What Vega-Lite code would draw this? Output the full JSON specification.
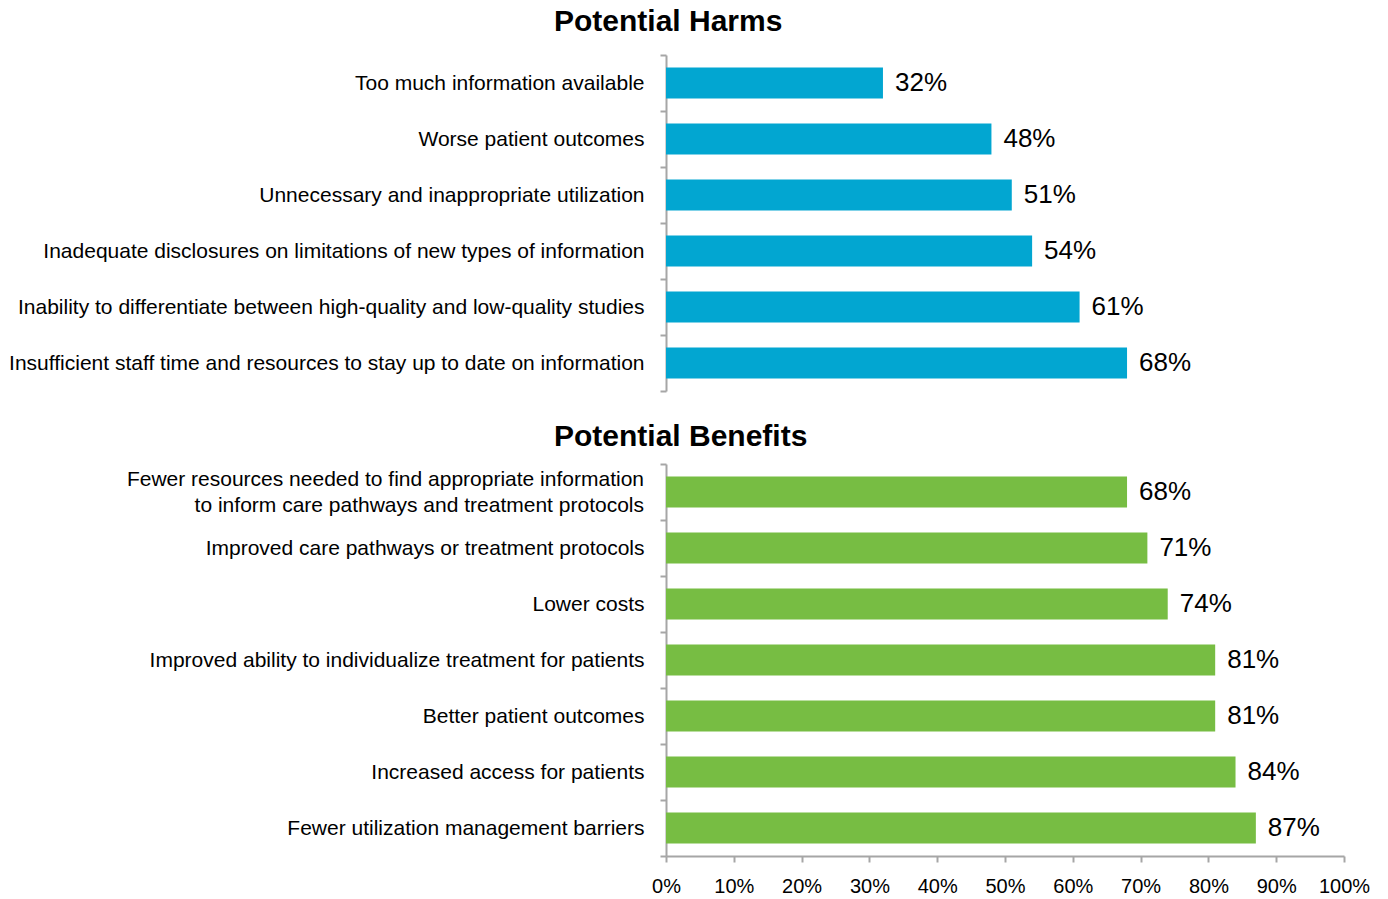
{
  "$schema": "https://vega.github.io/schema/vega-lite/v6.json",
  "padding": {"left": 8, "top": 7, "right": 15, "bottom": 5},
  "background": "white",
  "spacing": 30,
  "config": {
    "font": "Liberation Sans",
    "view": {"stroke": null},
    "axis": {
      "labelFont": "Liberation Sans",
      "labelColor": "#000000",
      "labelFontSize": 20,
      "grid": false,
      "domainColor": "#a6a6a6",
      "tickColor": "#a6a6a6",
      "domainWidth": 2,
      "tickWidth": 2,
      "tickSize": 6
    },
    "title": {
      "font": "Liberation Sans",
      "fontSize": 30,
      "fontWeight": "bold",
      "color": "#000000",
      "anchor": "start",
      "frame": "group",
      "dx": -112
    }
  },
  "vconcat": [
    {
      "title": {"text": "Potential Harms", "offset": 7},
      "width": 678,
      "height": 336,
      "data": {
        "values": [
          {"item": "Too much information available", "value": 0.32, "order": 1},
          {"item": "Worse patient outcomes", "value": 0.48, "order": 2},
          {"item": "Unnecessary and inappropriate utilization", "value": 0.51, "order": 3},
          {"item": "Inadequate disclosures on limitations of new types of information", "value": 0.54, "order": 4},
          {"item": "Inability to differentiate between high-quality and low-quality studies", "value": 0.61, "order": 5},
          {"item": "Insufficient staff time and resources to stay up to date on information", "value": 0.68, "order": 6}
        ]
      },
      "encoding": {
        "y": {
          "field": "item",
          "type": "nominal",
          "sort": {"field": "order", "op": "min"},
          "scale": {"paddingInner": 0, "paddingOuter": 0},
          "axis": {"title": null, "tickBand": "extent", "labelPadding": 16, "labelLimit": 800, "labelFontSize": 21}
        },
        "x": {
          "field": "value",
          "type": "quantitative",
          "scale": {"domain": [0, 1]},
          "axis": null
        }
      },
      "layer": [
        {"mark": {"type": "bar", "color": "#02a6d1", "height": {"band": 0.55}}},
        {
          "mark": {"type": "text", "align": "left", "baseline": "middle", "dx": 12, "fontSize": 26, "color": "#000000"},
          "encoding": {"text": {"field": "value", "type": "quantitative", "format": ".0%"}}
        }
      ]
    },
    {
      "title": {"text": "Potential Benefits", "offset": 1},
      "width": 678,
      "height": 392,
      "data": {
        "values": [
          {"item": "Fewer resources needed to find appropriate information|to inform care pathways and treatment protocols", "value": 0.68, "order": 1},
          {"item": "Improved care pathways or treatment protocols", "value": 0.71, "order": 2},
          {"item": "Lower costs", "value": 0.74, "order": 3},
          {"item": "Improved ability to individualize treatment for patients", "value": 0.81, "order": 4},
          {"item": "Better patient outcomes", "value": 0.81, "order": 5},
          {"item": "Increased access for patients", "value": 0.84, "order": 6},
          {"item": "Fewer utilization management barriers", "value": 0.87, "order": 7}
        ]
      },
      "encoding": {
        "y": {
          "field": "item",
          "type": "nominal",
          "sort": {"field": "order", "op": "min"},
          "scale": {"paddingInner": 0, "paddingOuter": 0},
          "axis": {
            "title": null,
            "tickBand": "extent",
            "labelPadding": 16,
            "labelLimit": 800,
            "labelFontSize": 21,
            "labelExpr": "indexof(datum.label, '|') >= 0 ? '' : datum.label"
          }
        },
        "x": {
          "field": "value",
          "type": "quantitative",
          "scale": {"domain": [0, 1]},
          "axis": {
            "title": null,
            "format": ".0%",
            "values": [0, 0.1, 0.2, 0.3, 0.4, 0.5, 0.6, 0.7, 0.8, 0.9, 1],
            "labelPadding": 14,
            "labelFlush": false
          }
        }
      },
      "layer": [
        {"mark": {"type": "bar", "color": "#77bd43", "height": {"band": 0.55}}},
        {
          "mark": {"type": "text", "align": "left", "baseline": "middle", "dx": 12, "fontSize": 26, "color": "#000000"},
          "encoding": {"text": {"field": "value", "type": "quantitative", "format": ".0%"}}
        },
        {
          "transform": [{"filter": "indexof(datum.item, '|') >= 0"}],
          "mark": {"type": "text", "align": "right", "baseline": "middle", "dx": -22, "dy": -12, "fontSize": 21, "lineBreak": "|", "lineHeight": 26, "color": "#000000"},
          "encoding": {
            "x": {"datum": 0},
            "text": {"field": "item", "type": "nominal"}
          }
        }
      ]
    }
  ]
}
